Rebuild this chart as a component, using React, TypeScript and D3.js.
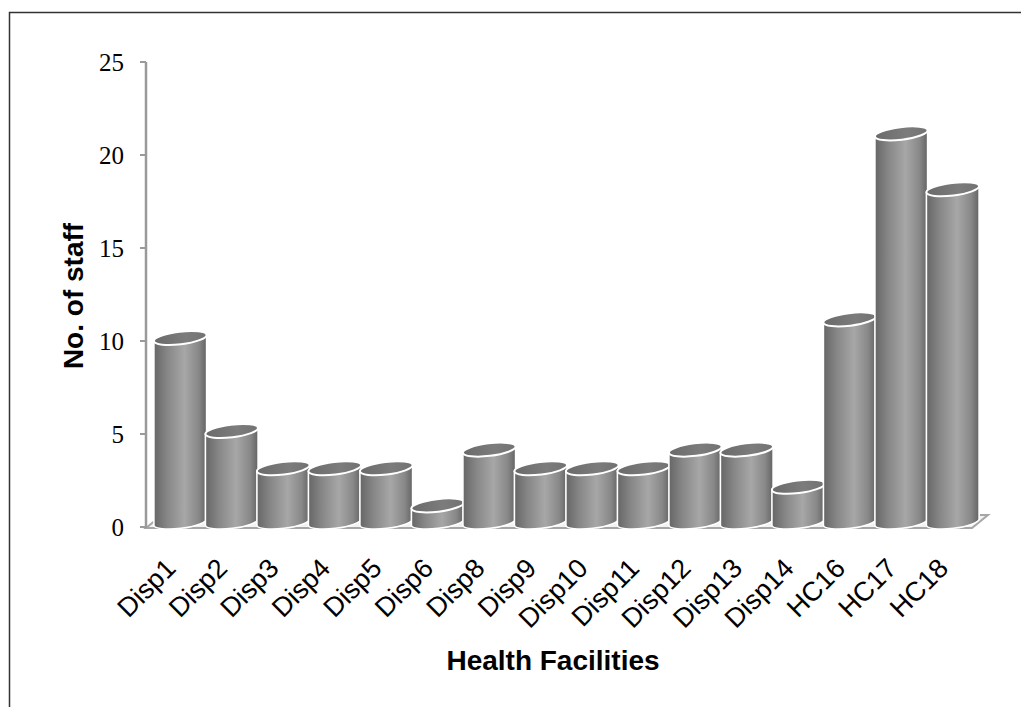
import React from "react";
import * as d3 from "d3";

// Staff counts per health facility
const categories = [
  "Disp1", "Disp2", "Disp3", "Disp4", "Disp5", "Disp6", "Disp8", "Disp9",
  "Disp10", "Disp11", "Disp12", "Disp13", "Disp14", "HC16", "HC17", "HC18",
];
const staff = [10, 5, 3, 3, 3, 1, 4, 3, 3, 3, 4, 4, 2, 11, 21, 18];
const yTicks = [0, 5, 10, 15, 20, 25];

const W = 1021;
const H = 707;

export default function App() {
  const x = d3.scaleBand<string>().domain(categories).range([154.5, 978.5]).padding(0);
  const y = d3.scaleLinear().domain([0, 25]).range([527, 62]);
  const step = x.step();

  const rx = step / 2 + 0.8;
  const ry = 6.3;
  const tilt = 7; // degrees, right side of the lids sits higher
  const t = (tilt * Math.PI) / 180;
  const dx = rx * Math.cos(t);
  const dy = rx * Math.sin(t);
  const baseY = y(0) - 5;

  const floorFront = y(0) + 1;
  const floorBack = floorFront - 13;
  const floorL = 146;
  const floorR = 972;
  const depth = 16;

  return (
    <svg
      width={W}
      height={H}
      style={{ position: "absolute", left: 0, top: 0, background: "#fff" }}
    >
      <defs>
        <linearGradient id="body" x1="0" x2="1" y1="0" y2="0">
          <stop offset="0" stopColor="#666666" />
          <stop offset="0.25" stopColor="#868686" />
          <stop offset="0.58" stopColor="#a7a7a7" />
          <stop offset="0.85" stopColor="#888888" />
          <stop offset="1" stopColor="#636363" />
        </linearGradient>
        <linearGradient id="lid" x1="0" x2="1" y1="0" y2="0">
          <stop offset="0" stopColor="#6a6a6a" />
          <stop offset="0.6" stopColor="#7c7c7c" />
          <stop offset="1" stopColor="#727272" />
        </linearGradient>
      </defs>

      {/* outer frame */}
      <rect x={9.5} y={12.5} width={W + 20} height={H + 20} fill="none" stroke="#333" strokeWidth={1.5} />

      {/* floor plate */}
      <path
        d={`M${floorL},${floorFront} L${floorR},${floorFront} L${floorR + depth},${floorBack} L${floorL + depth},${floorBack} Z`}
        fill="#f2f2f2"
        stroke="#a6a6a6"
        strokeWidth={2}
      />

      {/* value axis */}
      <line x1={146} x2={146} y1={y(25)} y2={floorFront} stroke="#9a9a9a" strokeWidth={2.5} />
      {yTicks.map((v) => (
        <g key={v}>
          <line x1={140} x2={146} y1={y(v)} y2={y(v)} stroke="#9a9a9a" strokeWidth={2} />
          <text
            x={124}
            y={y(v)}
            dy="0.35em"
            textAnchor="end"
            fontFamily="'Liberation Serif', 'Times New Roman', serif"
            fontSize={25}
            fill="#000"
          >
            {v}
          </text>
        </g>
      ))}

      {/* cylinders */}
      {categories.map((c, i) => {
        const cx = (x(c) as number) + step / 2;
        const topY = y(staff[i]) - 3;
        const lTop = [cx - dx, topY + dy];
        const rTop = [cx + dx, topY - dy];
        const lBot = [cx - dx, baseY + dy];
        const rBot = [cx + dx, baseY - dy];
        const bodyPath =
          `M${lTop[0]},${lTop[1]} L${lBot[0]},${lBot[1]} ` +
          `A${rx},${ry} ${-tilt} 0 0 ${rBot[0]},${rBot[1]} ` +
          `L${rTop[0]},${rTop[1]} ` +
          `A${rx},${ry} ${-tilt} 0 0 ${lTop[0]},${lTop[1]} Z`;
        return (
          <g key={c}>
            <path d={bodyPath} fill="url(#body)" stroke="#fff" strokeWidth={1.6} />
            <ellipse
              cx={cx}
              cy={topY}
              rx={rx}
              ry={ry}
              transform={`rotate(${-tilt},${cx},${topY})`}
              fill="url(#lid)"
              stroke="#fff"
              strokeWidth={2}
            />
          </g>
        );
      })}

      {/* category labels */}
      {categories.map((c) => {
        const cx = (x(c) as number) + step / 2;
        const lx = cx - 3;
        const ly = 570;
        return (
          <text
            key={c}
            x={lx}
            y={ly}
            transform={`rotate(-45,${lx},${ly})`}
            textAnchor="end"
            fontFamily="'Liberation Sans', Arial, sans-serif"
            fontSize={27}
            fill="#000"
          >
            {c}
          </text>
        );
      })}

      {/* axis titles */}
      <text
        x={553}
        y={670}
        textAnchor="middle"
        fontFamily="'Liberation Sans', Arial, sans-serif"
        fontWeight="bold"
        fontSize={28}
        fill="#000"
      >
        Health Facilities
      </text>
      <text
        transform="translate(83,296) rotate(-90)"
        textAnchor="middle"
        fontFamily="'Liberation Sans', Arial, sans-serif"
        fontWeight="bold"
        fontSize={28}
        fill="#000"
      >
        No. of staff
      </text>
    </svg>
  );
}
